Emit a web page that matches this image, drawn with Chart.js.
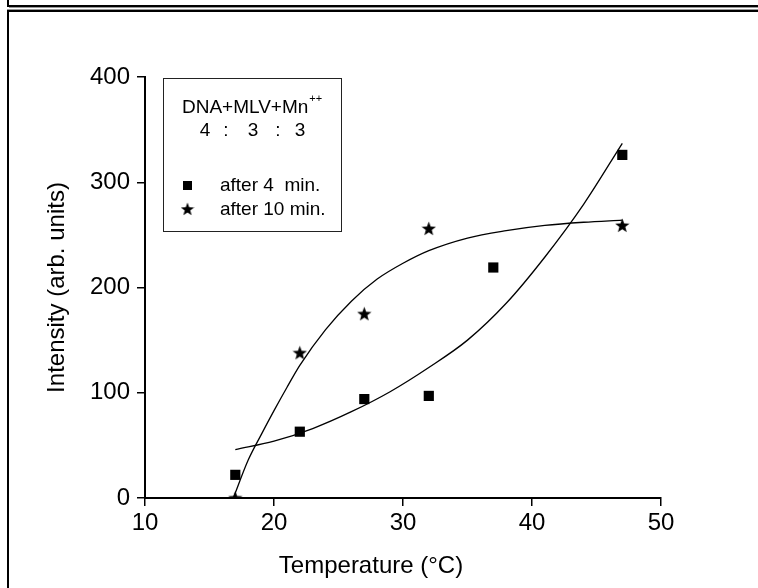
<!DOCTYPE html>
<html>
<head>
<meta charset="utf-8">
<script src="https://cdn.jsdelivr.net/npm/chart.js@4/dist/chart.umd.min.js"></script>
<style>
  html, body { margin: 0; padding: 0; background: #fff; }
  #wrap { position: relative; width: 758px; height: 588px; overflow: hidden; }
  #plot { position: absolute; left: 0; top: 0; }
  .ln { position: absolute; }
</style>
</head>
<body>
<div id="wrap">
  <!-- panel frames -->
  <div class="ln" style="left:7px;top:0;width:2px;height:7px;background:#000"></div>
  <div class="ln" style="left:7px;top:5px;width:760px;height:2px;background:#000"></div>
  <div class="ln" style="left:9px;top:7px;width:760px;height:1px;background:#9a9a9a"></div>
  <div class="ln" style="left:7px;top:9px;width:760px;height:1px;background:#9a9a9a"></div>
  <div class="ln" style="left:7px;top:10px;width:760px;height:2px;background:#000"></div>
  <div class="ln" style="left:7px;top:10px;width:2px;height:580px;background:#000"></div>
  <canvas id="plot" width="758" height="588"></canvas>
</div>
<script>
// measured points
const temps4 = [17, 22, 27, 32, 37, 47];
const intens4 = [22, 63, 94, 97, 219, 326];
const temps10 = [17, 22, 27, 32, 47];
const intens10 = [0, 138, 175, 256, 259];

// fitted curves
const fitTemps4 = [17, 20, 23, 26, 29, 32, 35, 38, 41, 44, 47];
const fitIntens4 = [46, 54, 66, 82, 101, 124, 150, 185, 229, 279, 337];
const fitTemps10 = [16.85, 18, 19, 20, 21, 22, 24, 26, 28, 30, 32, 35, 38, 41, 44, 47];
const fitIntens10 = [0, 36, 60, 83, 105, 126, 160, 187, 208, 223, 235, 247, 254, 259, 262, 264];

const xTicks = [10, 20, 30, 40, 50];
const yTicks = [0, 100, 200, 300, 400];

const FONT = "'Liberation Sans', Arial, sans-serif";

function pairs(xs, ys) {
    return xs.map((x, i) => ({ x: x, y: ys[i] }));
}

// filled five-point star used as point style
function makeStar(size) {
    const c = document.createElement('canvas');
    c.width = size; c.height = size;
    const g = c.getContext('2d');
    const cx = size / 2, cy = size / 2 + 0.6;
    const R = size / 2, r = R * 0.42;
    g.beginPath();
    for (let i = 0; i < 10; i++) {
        const rad = i % 2 === 0 ? R : r;
        const a = -Math.PI / 2 + i * Math.PI / 5;
        const px = cx + rad * Math.cos(a), py = cy + rad * Math.sin(a);
        if (i === 0) g.moveTo(px, py); else g.lineTo(px, py);
    }
    g.closePath();
    g.fillStyle = '#000';
    g.fill();
    return c;
}
const starImg = makeStar(15);
const starSmall = makeStar(14);

// boxed legend in the upper left, plus the x axis caption
const legendBox = {
    id: 'legendBox',
    afterDraw(chart) {
        const ctx = chart.ctx;
        ctx.save();
        ctx.strokeStyle = '#222';
        ctx.lineWidth = 1;
        ctx.strokeRect(163.5, 78.5, 178, 153);

        ctx.fillStyle = '#000';
        ctx.textBaseline = 'middle';
        ctx.textAlign = 'left';
        ctx.font = '19px ' + FONT;
        ctx.fillText('DNA+MLV+Mn', 182, 108);
        const w = ctx.measureText('DNA+MLV+Mn').width;
        ctx.font = '11px ' + FONT;
        ctx.fillText('++', 182 + w + 1, 99);

        ctx.font = '19px ' + FONT;
        ctx.textAlign = 'center';
        [['4', 205], [':', 226], ['3', 253], [':', 278], ['3', 300]].forEach(p => {
            ctx.fillText(p[0], p[1], 131);
        });

        ctx.textAlign = 'left';
        ctx.fillRect(183, 181, 9, 9);
        ctx.fillText('after 4  min.', 220, 186);
        ctx.drawImage(starSmall, 187.5 - 7, 209 - 7);
        ctx.fillText('after 10 min.', 220, 210);

        ctx.font = '24px ' + FONT;
        ctx.textAlign = 'center';
        ctx.fillText('Temperature (°C)', 371, 566);
        ctx.restore();
    }
};

new Chart(document.getElementById('plot'), {
    type: 'scatter',
    data: {
        datasets: [
            {
                label: 'fit 4 min',
                data: pairs(fitTemps4, fitIntens4),
                showLine: true,
                borderColor: '#000',
                borderWidth: 1.3,
                pointRadius: 0,
                cubicInterpolationMode: 'monotone'
            },
            {
                label: 'fit 10 min',
                data: pairs(fitTemps10, fitIntens10),
                showLine: true,
                borderColor: '#000',
                borderWidth: 1.3,
                pointRadius: 0,
                cubicInterpolationMode: 'monotone'
            },
            {
                label: 'after 4 min.',
                data: pairs(temps4, intens4),
                pointStyle: 'rect',
                pointRadius: 7.2,
                backgroundColor: '#000',
                borderWidth: 0
            },
            {
                label: 'after 10 min.',
                data: pairs(temps10, intens10),
                pointStyle: starImg,
                pointRadius: 7,
                backgroundColor: '#000'
            }
        ]
    },
    options: {
        responsive: false,
        animation: false,
        layout: { padding: { left: 40, top: 77, right: 97, bottom: 0 } },
        plugins: {
            legend: { display: false },
            tooltip: { enabled: false }
        },
        scales: {
            x: {
                type: 'linear',
                min: xTicks[0],
                max: xTicks[xTicks.length - 1],
                afterBuildTicks: s => { s.ticks = xTicks.map(v => ({ value: v })); },
                afterFit: s => { s.height = 90; },
                border: { color: '#000', width: 2 },
                grid: { drawOnChartArea: false, tickLength: 8, color: '#000', lineWidth: 1.5 },
                ticks: { color: '#000', font: { family: FONT, size: 24 }, padding: 3 },
                title: { display: false }
            },
            y: {
                type: 'linear',
                min: yTicks[0],
                max: yTicks[yTicks.length - 1],
                afterBuildTicks: s => { s.ticks = yTicks.map(v => ({ value: v })); },
                afterFit: s => { s.width = 105; },
                border: { color: '#000', width: 2 },
                grid: { drawOnChartArea: false, tickLength: 8, color: '#000', lineWidth: 1.5 },
                ticks: { color: '#000', font: { family: FONT, size: 24 }, padding: 7 },
                title: {
                    display: true,
                    text: 'Intensity (arb. units)',
                    color: '#000',
                    font: { family: FONT, size: 24 },
                    padding: { top: 3, bottom: 0 }
                }
            }
        }
    },
    plugins: [legendBox]
});
</script>
</body>
</html>
